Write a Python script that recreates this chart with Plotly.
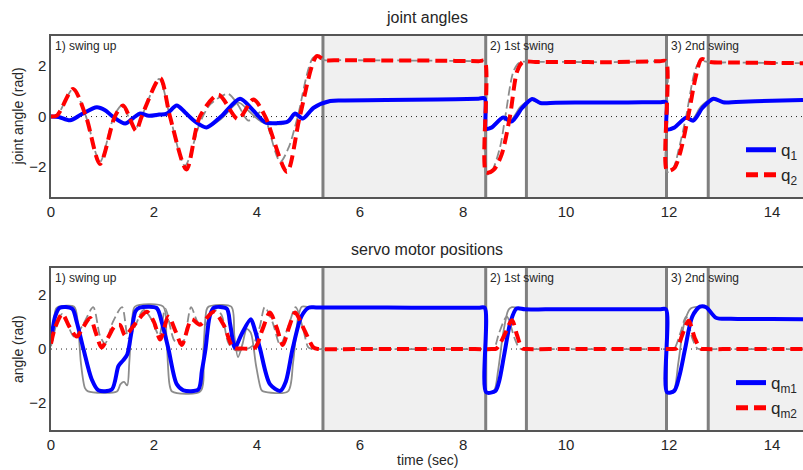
import plotly.graph_objects as go

# ---------------- data (time in seconds, angles in rad) ----------------
T_END = 14.6

# joint angles
T_Q1 = [0, 0.15, 0.37, 0.6, 0.89, 1.05, 1.2, 1.44, 1.6, 1.73, 1.9, 2.1, 2.25, 2.44, 2.6, 2.8,
        3.02, 3.3, 3.67, 3.9, 4.16, 4.4, 4.6, 4.74, 4.89, 5.1, 5.42, 5.7, 6.5, 7.5, 8.3, 8.42,
        8.45, 8.55, 8.78, 8.94, 9.15, 9.34, 9.5, 9.8, 10.5, 11.2, 11.82, 11.94, 11.96, 12.1,
        12.33, 12.47, 12.65, 12.86, 13.05, 13.3, 14.0, 14.6]
Q1 = [0, -0.02, -0.15, 0.1, 0.37, 0.25, 0.0, -0.28, -0.05, 0.12, 0.03, 0.08, 0.12, 0.44, 0.17, -0.2,
      -0.43, 0.0, 0.71, 0.3, -0.23, -0.26, -0.2, 0.12, -0.08, 0.35, 0.62, 0.64, 0.66, 0.68, 0.71, 0.72,
      -0.48, -0.44, -0.04, -0.2, 0.35, 0.70, 0.54, 0.55, 0.56, 0.56, 0.57, 0.57, -0.5, -0.44,
      -0.05, -0.16, 0.35, 0.71, 0.57, 0.58, 0.63, 0.66]

T_Q2 = [0, 0.12, 0.43, 0.68, 0.95, 1.24, 1.40, 1.65, 1.76, 2.12, 2.31, 2.63, 2.89, 3.25, 3.63,
        3.93, 4.16, 4.58, 4.83, 5.16, 5.32, 5.6, 6.5, 7.5, 8.3, 8.42, 8.45, 8.6, 8.75, 8.91,
        9.05, 9.16, 9.4, 10.0, 10.8, 11.82, 11.94, 11.96, 12.1, 12.22, 12.37, 12.52, 12.63,
        12.8, 13.2, 14.0, 14.6]
Q2 = [0, 0.05, 1.1, 0.0, -1.88, 0.0, 0.44, -0.56, 0.0, 1.53, 0.0, -2.1, 0.0, 0.87, -0.1,
      0.68, 0.0, -2.2, 0.0, 2.4, 2.24, 2.24, 2.23, 2.22, 2.2, 2.2, -2.22, -2.1, -1.5, 0.0,
      1.8, 2.17, 2.17, 2.17, 2.16, 2.2, 2.2, -2.15, -2.05, -1.4, 0.0, 1.6, 2.28,
      2.17, 2.15, 2.13, 2.12]

# joint angle references
T_Q1_REF = [0, 0.15, 0.37, 0.6, 0.89, 1.05, 1.2, 1.44, 1.6, 1.73, 1.9, 2.1, 2.25, 2.44, 2.6, 2.8,
            3.02, 3.3, 3.64, 3.85, 4.08, 4.3, 4.52, 4.7, 4.89, 5.1, 5.42, 5.7, 6.5, 7.5, 8.3, 8.42,
            8.45, 8.55, 8.75, 8.92, 9.12, 9.33, 9.5, 9.8, 10.5, 11.2, 11.82, 11.94, 11.96, 12.1,
            12.3, 12.45, 12.62, 12.84, 13.05, 13.3, 14.0, 14.6]
Q1_REF = [0, -0.02, -0.15, 0.1, 0.37, 0.25, 0.0, -0.28, -0.05, 0.12, 0.03, 0.08, 0.12, 0.44, 0.17, -0.2,
          -0.43, -0.1, 0.55, 0.2, -0.2, -0.3, -0.28, 0.05, -0.05, 0.35, 0.62, 0.64, 0.66, 0.68, 0.71, 0.72,
          -0.45, -0.4, -0.05, -0.15, 0.4, 0.66, 0.52, 0.55, 0.56, 0.56, 0.57, 0.57, -0.5, -0.42,
          -0.05, -0.12, 0.4, 0.7, 0.56, 0.58, 0.63, 0.66]

T_Q2_REF = [0, 0.12, 0.43, 0.68, 0.95, 1.22, 1.38, 1.63, 1.76, 2.1, 2.31, 2.6, 2.9, 3.1, 3.44,
            3.62, 3.83, 4.0, 4.1, 4.2, 4.45, 4.62, 4.79, 5.1, 5.3, 5.6, 6.5, 7.5, 8.3, 8.42, 8.45,
            8.55, 8.72, 8.82, 8.98, 9.1, 9.4, 10.0, 10.8, 11.82, 11.94, 11.96, 12.08, 12.2, 12.33,
            12.5, 12.6, 12.8, 13.2, 14.0, 14.6]
Q2_REF = [0, 0.05, 1.1, 0.0, -1.8, 0.0, 0.44, -0.5, 0.0, 1.5, 0.0, -1.95, -0.2, 0.5, 0.9,
          0.5, -0.16, 0.1, 0.2, -0.3, -1.8, -1.2, 0.0, 2.35, 2.24, 2.24, 2.23, 2.22, 2.2, 2.2, -2.3,
          -2.2, -1.2, 0.0, 1.8, 2.15, 2.17, 2.17, 2.16, 2.2, 2.2, -2.2, -2.05, -1.2, 0.0,
          1.8, 2.2, 2.15, 2.15, 2.13, 2.12]

# servo motor positions
T_QM1 = [0, 0.08, 0.17, 0.41, 0.5, 0.63, 0.79, 0.92, 1.18, 1.31, 1.40, 1.48, 1.56, 1.64, 1.72,
         2.05, 2.15, 2.28, 2.44, 2.57, 2.86, 2.93, 3.0, 3.08, 3.16, 3.41, 3.48, 3.57, 3.7, 3.88,
         3.96, 4.06, 4.25, 4.45, 4.56, 4.69, 4.86, 5.0, 5.15, 6.0, 7.0, 8.3, 8.42, 8.45, 8.63,
         8.7, 8.8, 8.92, 9.04, 9.2, 9.6, 10.5, 11.4, 11.82, 11.94, 11.96, 12.1, 12.2, 12.31,
         12.45, 12.6, 12.72, 12.91, 13.2, 14.0, 14.6]
QM1 = [0.25, 1.2, 1.53, 1.5, 1.0, 0.0, -1.12, -1.53, -1.5, -0.63, -0.42, -0.2, 0.6, 1.4, 1.53,
       1.52, 1.0, 0.0, -1.3, -1.53, -1.5, -0.8, 0.0, 1.2, 1.53, 1.5, 0.9, 0.05, 0.55, 1.1,
       0.7, 0.0, -1.3, -1.55, -1.2, 0.0, 1.2, 1.53, 1.54, 1.54, 1.53, 1.53, 1.53, -1.6, -1.55,
       -1.2, -0.2, 1.0, 1.5, 1.47, 1.47, 1.47, 1.47, 1.47, 1.47, -1.6, -1.55, -1.0, 0.0,
       1.2, 1.57, 1.55, 1.16, 1.12, 1.11, 1.1]

T_QM2 = [0, 0.08, 0.22, 0.35, 0.5, 0.62, 0.76, 0.87, 0.98, 1.1, 1.24, 1.34, 1.44, 1.6, 1.86,
         2.0, 2.12, 2.28, 2.42, 2.54, 2.73, 2.89, 3.16, 3.35, 3.54, 3.7, 3.96, 4.1, 4.25, 4.38,
         4.5, 4.62, 4.74, 4.92, 5.1, 5.2, 6.0, 7.0, 8.0, 8.55, 8.65, 8.8, 8.95, 9.05, 9.15,
         9.25, 10.0, 11.0, 11.9, 12.05, 12.15, 12.27, 12.38, 12.5, 12.61, 12.72, 13.3, 14.0, 14.6]
QM2 = [0.2, 0.8, 1.3, 0.85, 0.46, 0.8, 1.15, 0.6, 0.06, 0.4, 0.85, 0.89, 0.5, 0.85, 1.38,
       1.0, 0.35, 1.2, 0.65, 0.15, 1.1, 0.9, 1.38, 0.9, 0.05, 0.02, 0.05, 0.7, 1.35, 0.8,
       0.15, 0.8, 1.35, 0.7, 0.05, 0.0, 0.0, 0.0, 0.0, 0.0, 0.02, 0.5, 1.07, 0.5, 0.02,
       0.0, 0.0, 0.0, 0.0, 0.0, 0.03, 0.6, 1.05, 0.4, 0.02, 0.0, 0.0, 0.0, 0.0]

# servo motor references
T_QM1_REF = [0, 0.1, 0.15, 0.45, 0.52, 0.58, 0.66, 0.72, 1.28, 1.35, 1.42, 1.48, 1.52, 1.58, 1.63,
             2.18, 2.24, 2.3, 2.35, 2.9, 2.96, 3.02, 3.06, 3.5, 3.56, 3.63, 3.72, 3.8, 3.88, 3.98,
             4.08, 4.12, 4.6, 4.7, 4.8, 4.87, 5.0, 6.0, 7.0, 8.3, 8.42, 8.45, 8.6, 8.68, 8.78,
             8.88, 8.95, 9.2, 9.6, 10.5, 11.4, 11.82, 11.94, 11.96, 12.08, 12.18, 12.3, 12.42,
             12.6, 12.72, 12.91, 13.2, 14.0, 14.6]
QM1_REF = [0.2, 1.5, 1.57, 1.57, 1.0, -0.5, -1.45, -1.57, -1.57, -1.3, -1.22, -1.35, -0.5, 1.2, 1.57,
           1.57, 0.5, -1.3, -1.57, -1.57, 0.0, 1.45, 1.57, 1.57, 0.5, -0.3, 0.2, 0.75, 0.6, -0.6,
           -1.5, -1.57, -1.57, -0.5, 1.2, 1.57, 1.55, 1.54, 1.53, 1.53, 1.53, -1.6, -1.55, -0.8, 0.6,
           1.45, 1.55, 1.47, 1.47, 1.47, 1.47, 1.47, 1.47, -1.6, -1.6, -0.5, 1.0, 1.5,
           1.57, 1.55, 1.16, 1.12, 1.11, 1.1]

T_QM2_REF = [0, 0.12, 0.22, 0.45, 0.62, 0.82, 0.95, 1.05, 1.2, 1.38, 1.5, 1.62, 1.8, 1.95, 2.1,
             2.22, 2.4, 2.55, 2.72, 2.85, 3.0, 3.15, 3.3, 3.45, 3.6, 3.9, 4.05, 4.15, 4.3, 4.45,
             4.6, 4.75, 4.9, 5.0, 5.1, 5.2, 6.0, 7.0, 8.0, 8.5, 8.6, 8.7, 8.85, 9.0, 9.1, 9.2,
             10.0, 11.0, 11.9, 12.0, 12.1, 12.22, 12.33, 12.45, 12.55, 12.65, 13.3, 14.0, 14.6]
QM2_REF = [0.1, 1.0, 1.3, 0.45, 0.9, 1.55, 0.5, 0.2, 1.0, 1.55, 0.4, 0.8, 1.45, 1.1, 0.5,
           1.5, 0.3, 0.2, 1.55, 1.0, 0.9, 1.45, 1.3, 0.2, -0.05, 0.1, 0.8, 1.55, 1.0, 0.15,
           0.8, 1.55, 0.7, 0.05, 0.0, 0.0, 0.0, 0.0, 0.0, 0.0, 0.02, 0.6, 1.2, 0.4, 0.02, 0.0,
           0.0, 0.0, 0.0, 0.0, 0.02, 0.6, 1.2, 0.4, 0.02, 0.0, 0.0, 0.0, 0.0]

# phase switching instants and the phases they start
PHASE_SWITCH = [5.28, 8.44, 9.23, 11.95, 12.76]
BALANCE_INTERVALS = [(5.28, 8.44), (9.23, 11.95), (12.76, T_END)]
PHASE_LABELS = [(0.0, "1) swing up"), (8.44, "2) 1st swing"), (11.95, "3) 2nd swing")]

# ---------------- styling ----------------
FONT = "Liberation Sans, Arial, sans-serif"
TXT = "#262626"
BLUE = "#0000ff"
RED = "#ff0000"
GRAY = "#8c8c8c"
SHADE = "#f0f0f0"
FRAME = "#555555"

TOP_DOMAIN = [0.591, 1.0]
BOT_DOMAIN = [0.0, 0.411]

fig = go.Figure()


def add_panel(xa, ya, t_ref_a, ref_a, t_ref_b, ref_b, t_a, a, t_b, b, name_a, name_b, legend):
    fig.add_trace(go.Scatter(x=t_ref_a, y=ref_a, mode="lines", xaxis=xa, yaxis=ya,
                             line=dict(color=GRAY, width=1.8, shape="spline", smoothing=0.8),
                             showlegend=False, hoverinfo="skip"))
    fig.add_trace(go.Scatter(x=t_ref_b, y=ref_b, mode="lines", xaxis=xa, yaxis=ya,
                             line=dict(color=GRAY, width=1.8, dash="9px,4px", shape="spline",
                                       smoothing=0.8),
                             showlegend=False, hoverinfo="skip"))
    fig.add_trace(go.Scatter(x=t_a, y=a, mode="lines", name=name_a, xaxis=xa, yaxis=ya,
                             legend=legend,
                             line=dict(color=BLUE, width=4, shape="spline", smoothing=0.8)))
    fig.add_trace(go.Scatter(x=t_b, y=b, mode="lines", name=name_b, xaxis=xa, yaxis=ya,
                             legend=legend,
                             line=dict(color=RED, width=4, dash="12px,6px", shape="spline",
                                       smoothing=0.8)))


add_panel("x", "y", T_Q1_REF, Q1_REF, T_Q2_REF, Q2_REF, T_Q1, Q1, T_Q2, Q2,
          "q<sub>1</sub>", "q<sub>2</sub>", "legend")
add_panel("x2", "y2", T_QM1_REF, QM1_REF, T_QM2_REF, QM2_REF, T_QM1, QM1, T_QM2, QM2,
          "q<sub>m1</sub>", "q<sub>m2</sub>", "legend2")

shapes = []
annotations = []
for xr, yr, dom in (("x", "y", TOP_DOMAIN), ("x2", "y2", BOT_DOMAIN)):
    for x0, x1 in BALANCE_INTERVALS:
        shapes.append(dict(type="rect", xref=xr, yref=f"{yr} domain", x0=x0, x1=x1, y0=0, y1=1,
                           fillcolor=SHADE, line=dict(width=0), layer="below"))
    for xs in PHASE_SWITCH:
        shapes.append(dict(type="line", xref=xr, yref=f"{yr} domain", x0=xs, x1=xs, y0=0, y1=1,
                           line=dict(color="#7f7f7f", width=3), layer="below"))
    shapes.append(dict(type="line", xref=f"{xr} domain", yref=yr, x0=0, x1=1, y0=0, y1=0,
                       line=dict(color="#222222", width=1, dash="1px,4px"), layer="below"))
    for xs, label in PHASE_LABELS:
        annotations.append(dict(xref=xr, yref=f"{yr} domain", x=xs, y=1, text=label,
                                showarrow=False, xanchor="left", yanchor="top", xshift=2,
                                yshift=-1, font=dict(family=FONT, size=12, color=TXT)))

# panel titles, axis titles
annotations += [
    dict(xref="x domain", yref="paper", x=0.5, y=1, yshift=19, text="joint angles",
         showarrow=False, yanchor="middle", font=dict(family=FONT, size=16, color=TXT)),
    dict(xref="x2 domain", yref="paper", x=0.5, y=BOT_DOMAIN[1], yshift=19,
         text="servo motor positions", showarrow=False, yanchor="middle",
         font=dict(family=FONT, size=16, color=TXT)),
    dict(xref="x2 domain", yref="paper", x=0.5, y=0, yshift=-30, text="time (sec)",
         showarrow=False, yanchor="middle", font=dict(family=FONT, size=14, color=TXT)),
    dict(xref="paper", yref="y domain", x=0, xshift=-33, y=0.5, text="joint angle (rad)",
         textangle=-90, showarrow=False, xanchor="center", yanchor="middle",
         font=dict(family=FONT, size=14, color=TXT)),
    dict(xref="paper", yref="y2 domain", x=0, xshift=-33, y=0.5, text="angle (rad)",
         textangle=-90, showarrow=False, xanchor="center", yanchor="middle",
         font=dict(family=FONT, size=14, color=TXT)),
]

xaxis_common = dict(range=[0, T_END], dtick=2, tick0=0, showgrid=False, zeroline=False,
                    showline=True, linecolor=FRAME, linewidth=1.5, mirror=True, ticks="",
                    tickfont=dict(family=FONT, size=15, color=TXT))
yaxis_common = dict(dtick=2, tick0=0, showgrid=False, zeroline=False, showline=True,
                    linecolor=FRAME, linewidth=1.5, mirror=False, ticks="",
                    tickfont=dict(family=FONT, size=15, color=TXT))

legend_common = dict(xanchor="right", x=1.0, yanchor="bottom", bgcolor="rgba(0,0,0,0)",
                     borderwidth=0, font=dict(family=FONT, size=17, color=TXT),
                     tracegroupgap=0, itemsizing="constant")

fig.update_layout(
    width=803, height=470,
    margin=dict(l=51, r=0, t=36, b=40),
    paper_bgcolor="white", plot_bgcolor="white",
    xaxis=dict(domain=[0, 1], anchor="y", **xaxis_common),
    yaxis=dict(domain=TOP_DOMAIN, anchor="x", range=[-3.2, 3.2], **yaxis_common),
    xaxis2=dict(domain=[0, 1], anchor="y2", **xaxis_common),
    yaxis2=dict(domain=BOT_DOMAIN, anchor="x2", range=[-3.0, 3.0], **yaxis_common),
    legend=dict(y=TOP_DOMAIN[0] + 0.01, **legend_common),
    legend2=dict(y=BOT_DOMAIN[0] + 0.01, **legend_common),
    shapes=shapes,
    annotations=annotations,
    font=dict(family=FONT, color=TXT),
)

fig.write_html("out.html")
